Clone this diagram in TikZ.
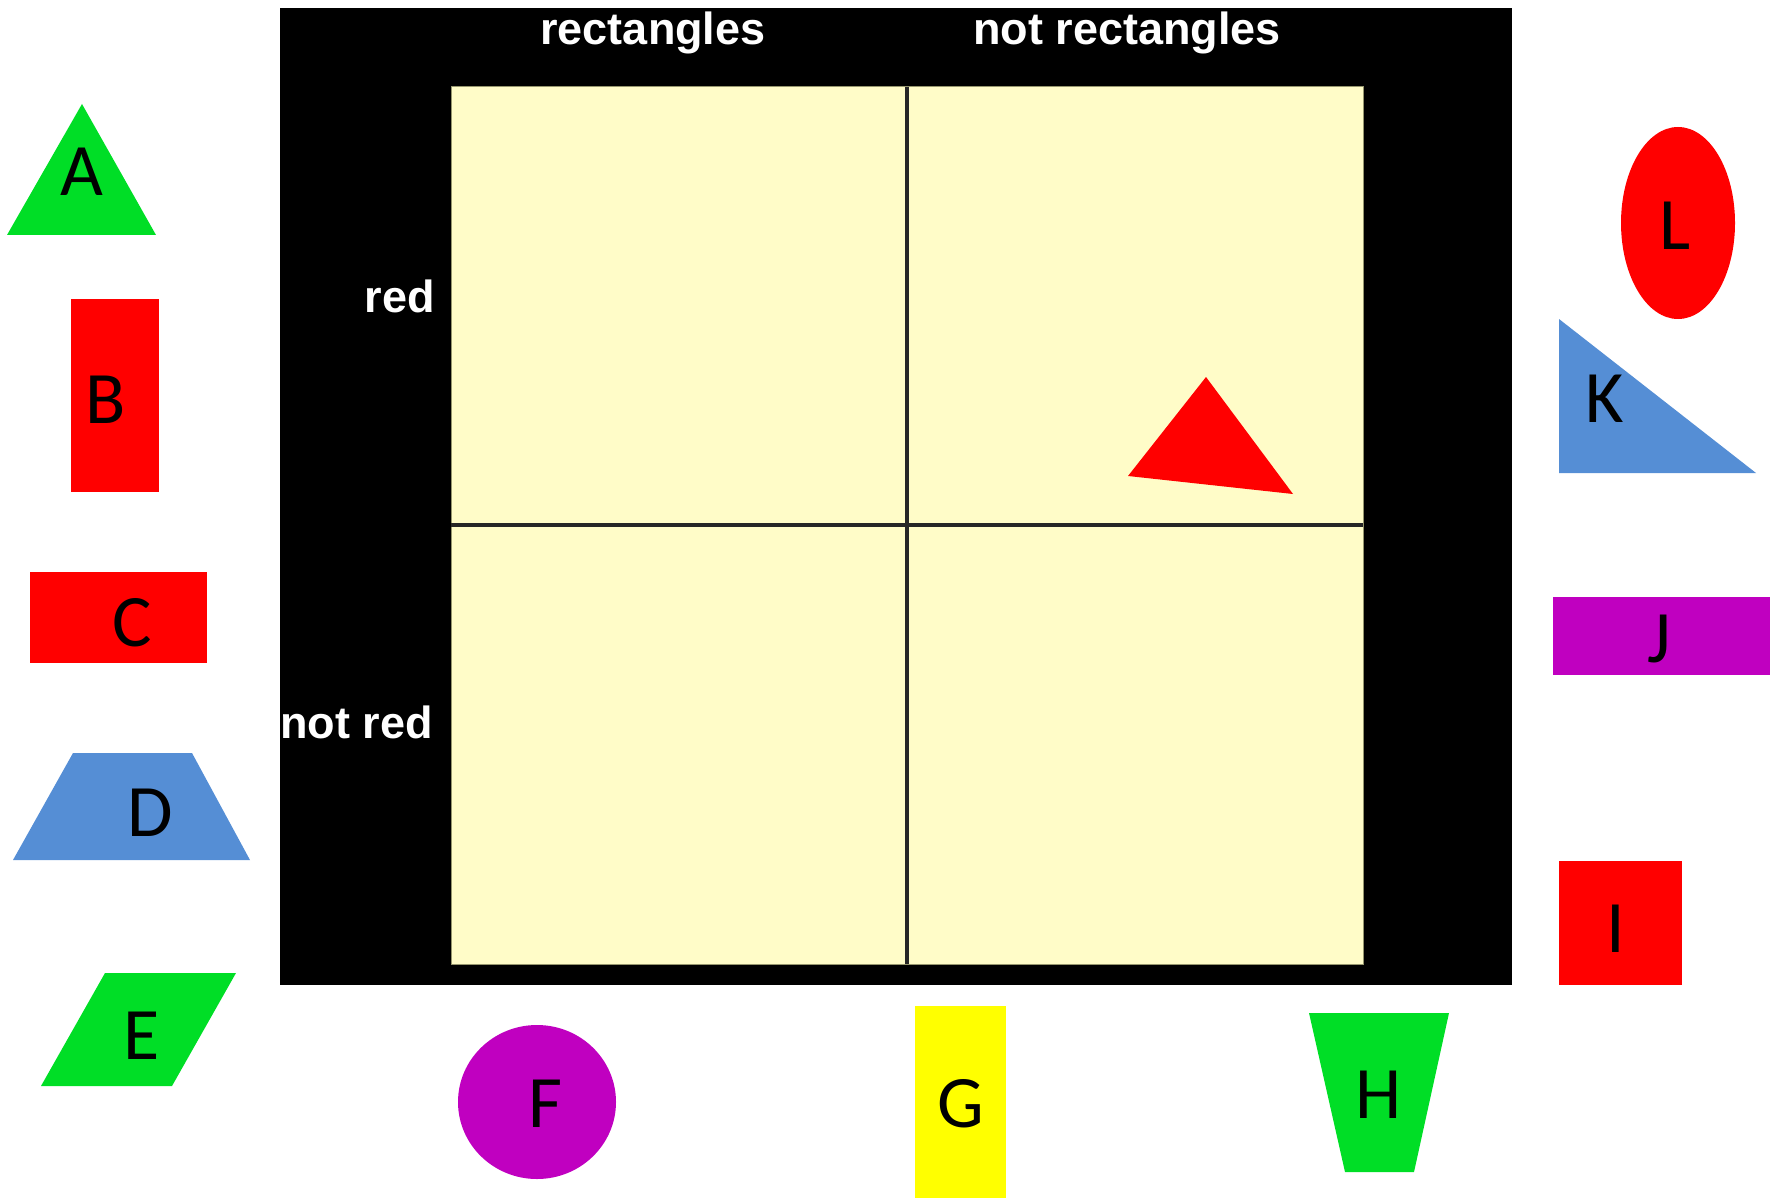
\documentclass[tikz,border=0pt]{standalone}
\usepackage{fontspec}
\setmainfont{Carlito}
\newfontfamily\labelfont{Liberation Sans}
\definecolor{shgreen}{RGB}{0,222,38}
\definecolor{shred}{RGB}{255,0,0}
\definecolor{shblue}{RGB}{85,142,213}
\definecolor{shpurple}{RGB}{192,0,192}
\definecolor{shyellow}{RGB}{255,255,0}
\definecolor{cellfill}{RGB}{255,252,200}
\definecolor{celledge}{RGB}{150,150,110}
\tikzset{
  letter/.style={anchor=base, inner sep=0pt, font=\fontsize{74}{74}\selectfont, text=black},
  axislabel/.style={inner sep=0pt, text=white, font=\labelfont\bfseries\fontsize{45}{45}\selectfont},
  divider/.style={draw=black!85, line width=3.5pt}
}
\begin{document}
\begin{tikzpicture}[x=1pt,y=-1pt]
\useasboundingbox (0,0) rectangle (1779,1198);
% board
\fill[black] (280,8) rectangle (1512,985);
\fill[cellfill] (451,87) rectangle (1363,964);
\draw[celledge, line width=1pt] (451,87) rectangle (1363,964);
\draw[divider] (907,87) -- (907,964);
\draw[divider] (451,525) -- (1363,525);
\begin{scope}
\clip (280,8) rectangle (1512,985);
\node[axislabel, anchor=base] (colrect) at (653,45) {rectangles};
\node[axislabel, anchor=base] (colnot) at (1127,45) {not rectangles};
\node[axislabel, anchor=base east] (rowred) at (435,312) {red};
\node[axislabel, anchor=base east] (rownot) at (433,738) {not red};
\end{scope}
% placed shape
\fill[shred] (1206,377) -- (1128,476) -- (1293,494) -- cycle;
% left column
\fill[shgreen] (82,104) -- (156,235) -- (7,235) -- cycle;
\node[letter] (A) at (82,196) {A};
\fill[shred] (71,299) rectangle (159,492);
\node[letter] (B) at (106,423) {B};
\fill[shred] (30,572) rectangle (207,663);
\node[letter] (C) at (132,646) {C};
\fill[shblue] (73,753) -- (192,753) -- (250,860) -- (13,860) -- cycle;
\node[letter] (D) at (150,836) {D};
\fill[shgreen] (105,973) -- (236,973) -- (172,1086) -- (41,1086) -- cycle;
\node[letter] (E) at (142,1059) {E};
% bottom row
\fill[shpurple] (537,1102) ellipse [x radius=79, y radius=77];
\node[letter] (F) at (545,1127) {F};
\fill[shyellow] (915,1006) rectangle (1006,1198);
\node[letter] (G) at (961,1127) {G};
\fill[shgreen] (1309,1013) -- (1449,1013) -- (1414,1172) -- (1345,1172) -- cycle;
\node[letter] (H) at (1379,1118) {H};
% right column
\fill[shred] (1559,861) rectangle (1682,985);
\node[letter] (I) at (1616,952) {I};
\fill[shpurple] (1553,597) rectangle (1770,675);
\node[letter] (J) at (1659,662) {J};
\fill[shblue] (1559,319) -- (1756,473) -- (1559,473) -- cycle;
\node[letter] (K) at (1605,422) {K};
\fill[shred] (1678,223) ellipse [x radius=57, y radius=96];
\node[letter] (L) at (1675,250) {L};
\end{tikzpicture}
\end{document}
